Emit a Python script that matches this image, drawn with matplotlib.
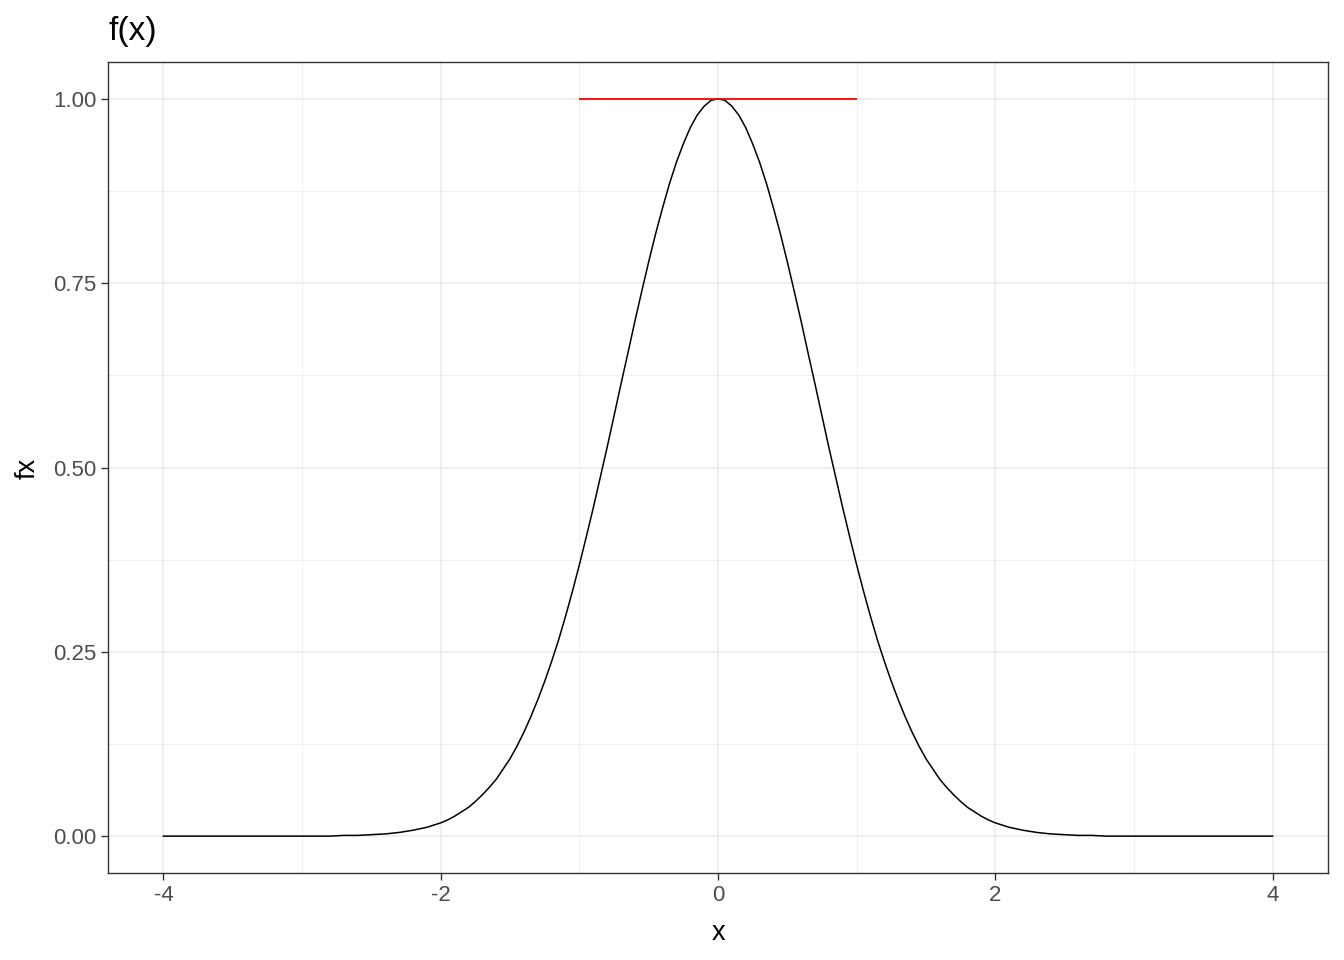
import matplotlib
matplotlib.use("Agg")
from matplotlib import pyplot as plt
from matplotlib.ticker import MultipleLocator

plt.rcParams['font.family'] = ['Liberation Sans', 'DejaVu Sans']

# curve points (finer spacing where it bends)
x_vals = [
    -4.0, -3.9, -3.8, -3.7, -3.6, -3.5, -3.4, -3.3, -3.2, -3.1,
    -3.0, -2.9, -2.8, -2.7, -2.6, -2.5, -2.4, -2.3, -2.2, -2.1,
    -2.00, -1.95, -1.90, -1.85, -1.80, -1.75, -1.70, -1.65, -1.60, -1.55,
    -1.50, -1.45, -1.40, -1.35, -1.30, -1.25, -1.20, -1.15, -1.10, -1.05,
    -1.00, -0.95, -0.90, -0.85, -0.80, -0.75, -0.70, -0.65, -0.60, -0.55,
    -0.50, -0.45, -0.40, -0.35, -0.30, -0.25, -0.20, -0.15, -0.10, -0.05,
    0.00,
    0.05, 0.10, 0.15, 0.20, 0.25, 0.30, 0.35, 0.40, 0.45, 0.50,
    0.55, 0.60, 0.65, 0.70, 0.75, 0.80, 0.85, 0.90, 0.95, 1.00,
    1.05, 1.10, 1.15, 1.20, 1.25, 1.30, 1.35, 1.40, 1.45, 1.50,
    1.55, 1.60, 1.65, 1.70, 1.75, 1.80, 1.85, 1.90, 1.95, 2.00,
    2.1, 2.2, 2.3, 2.4, 2.5, 2.6, 2.7, 2.8, 2.9, 3.0,
    3.1, 3.2, 3.3, 3.4, 3.5, 3.6, 3.7, 3.8, 3.9, 4.0,
]
fx_vals = [
    0.000, 0.000, 0.000, 0.000, 0.000, 0.000, 0.000, 0.000, 0.000, 0.000,
    0.000, 0.000, 0.000, 0.001, 0.001, 0.002, 0.003, 0.005, 0.008, 0.012,
    0.018, 0.022, 0.027, 0.033, 0.039, 0.047, 0.056, 0.066, 0.077, 0.091,
    0.105, 0.122, 0.141, 0.162, 0.185, 0.210, 0.237, 0.266, 0.298, 0.332,
    0.368, 0.406, 0.445, 0.486, 0.527, 0.570, 0.613, 0.655, 0.698, 0.739,
    0.779, 0.817, 0.852, 0.885, 0.914, 0.939, 0.961, 0.978, 0.990, 0.998,
    1.000,
    0.998, 0.990, 0.978, 0.961, 0.939, 0.914, 0.885, 0.852, 0.817, 0.779,
    0.739, 0.698, 0.655, 0.613, 0.570, 0.527, 0.486, 0.445, 0.406, 0.368,
    0.332, 0.298, 0.266, 0.237, 0.210, 0.185, 0.162, 0.141, 0.122, 0.105,
    0.091, 0.077, 0.066, 0.056, 0.047, 0.039, 0.033, 0.027, 0.022, 0.018,
    0.012, 0.008, 0.005, 0.003, 0.002, 0.001, 0.001, 0.000, 0.000, 0.000,
    0.000, 0.000, 0.000, 0.000, 0.000, 0.000, 0.000, 0.000, 0.000, 0.000,
]

# red segment at the maximum
seg_x = [-1, 1]
seg_y = [1, 1]

x_ticks = [-4, -2, 0, 2, 4]
y_ticks = [0.00, 0.25, 0.50, 0.75, 1.00]
y_labels = ['0.00', '0.25', '0.50', '0.75', '1.00']

W, H = 1344, 960
fig = plt.figure(figsize=(W / 100, H / 100), dpi=100)
# panel box in pixels: 108..1328 wide, 62..873 tall
ax = fig.add_axes([108 / W, 1 - 873 / H, 1220 / W, 811 / H])

ax.plot(x_vals, fx_vals, color='black', lw=1.1, zorder=3)
ax.plot(seg_x, seg_y, color='red', lw=1.3, zorder=4, solid_capstyle='butt')

ax.set_xlim(-4.4, 4.4)
ax.set_ylim(-0.05, 1.05)
ax.set_xticks(x_ticks)
ax.set_xticklabels([str(t) for t in x_ticks])
ax.set_yticks(y_ticks)
ax.set_yticklabels(y_labels)
ax.xaxis.set_minor_locator(MultipleLocator(1))
ax.yaxis.set_minor_locator(MultipleLocator(0.125))

ax.grid(which='major', color='#EBEBEB', lw=1.1)
ax.grid(which='minor', color='#EBEBEB', lw=0.55)
ax.set_axisbelow(True)

for s in ax.spines.values():
    s.set_color('#333333')
    s.set_linewidth(1.0)

ax.tick_params(which='major', length=5, width=1.0, color='#333333',
               labelcolor='#4D4D4D', labelsize=16, pad=3.5)
ax.tick_params(which='minor', length=0)

# axis titles and plot title placed by pixel position
fig.text(718 / W, 1 - 940 / H, 'x', fontsize=19.5, ha='center', va='baseline')
fig.text(28 / W, 1 - 468 / H, 'fx', fontsize=19.5, rotation=90,
         ha='center', va='center')
fig.text(108 / W, 1 - 40 / H, 'f(x)', fontsize=24, ha='left', va='baseline')

fig.savefig('out.png', dpi=100)
